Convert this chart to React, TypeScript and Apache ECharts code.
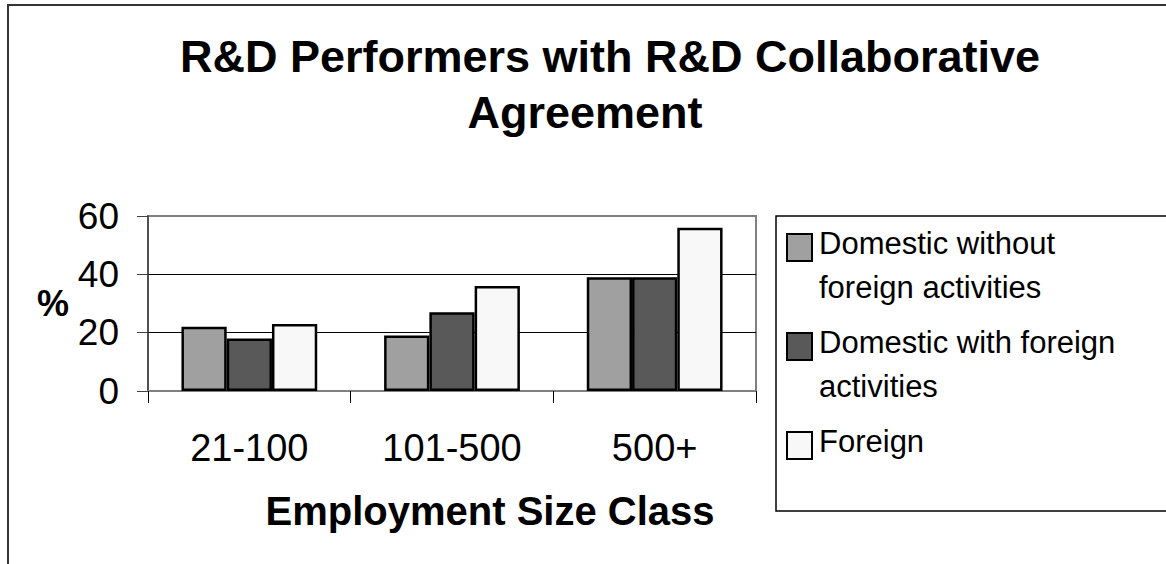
import React, { useEffect, useRef } from "react";
import * as echarts from "echarts";

const categories = ["21-100", "101-500", "500+"];
const seriesNames = [
  "Domestic without foreign activities",
  "Domestic with foreign activities",
  "Foreign",
];
const legendLabels = [
  "Domestic without\nforeign activities",
  "Domestic with foreign\nactivities",
  "Foreign\n",
];
const domesticWithout = [22, 19, 39];
const domesticWith = [18, 27, 39];
const foreign = [23, 36, 56];
const yTicks = [0, 20, 40, 60];

const FONT = "'Liberation Sans', Arial, Helvetica, sans-serif";
const colors = ["#a0a0a0", "#595959", "#f8f8f8"];

export default function App() {
  const ref = useRef<HTMLDivElement>(null);
  useEffect(() => {
    if (!ref.current) return;
    const chart = echarts.init(ref.current, undefined, { renderer: "svg" });
    const values = [domesticWithout, domesticWith, foreign];
    const option: any = {
      animation: false,
      backgroundColor: "#ffffff",
      textStyle: { fontFamily: FONT, color: "#000" },
      title: [
        {
          text: "R&D Performers with R&D Collaborative",
          left: 610,
          top: 28,
          padding: 0,
          textAlign: "center",
          textStyle: { fontFamily: FONT, fontSize: 45, fontWeight: "bold", color: "#000", lineHeight: 56 },
        },
        {
          text: "Agreement",
          left: 585,
          top: 84,
          padding: 0,
          textAlign: "center",
          textStyle: { fontFamily: FONT, fontSize: 45, fontWeight: "bold", color: "#000", lineHeight: 56 },
        },
      ],
      grid: {
        left: 148,
        right: 1166 - 756,
        top: 216,
        bottom: 564 - 391,
        show: true,
        borderColor: "#808080",
        borderWidth: 2,
        backgroundColor: "transparent",
      },
      legend: {
        orient: "vertical",
        left: 786,
        top: 221,
        padding: 0,
        itemGap: 11,
        itemWidth: 27,
        itemHeight: 62,
        icon: "path://M0,0H25V27H0Z M27,62",
        itemStyle: { borderColor: "#000", borderWidth: 2 },
        data: seriesNames,
        formatter: (name: string) => legendLabels[seriesNames.indexOf(name)],
        textStyle: { fontFamily: FONT, fontSize: 31, lineHeight: 44, color: "#000" },
        selectedMode: false,
      },
      xAxis: {
        type: "category",
        data: categories,
        name: "Employment Size Class",
        nameLocation: "middle",
        nameGap: 100,
        nameTextStyle: {
          fontFamily: FONT,
          fontSize: 40,
          fontWeight: "bold",
          color: "#000",
          lineHeight: 40,
          padding: [0, 0, 0, 76],
        },
        axisLine: { show: true, lineStyle: { color: "#808080", width: 2 } },
        axisTick: { show: true, length: 12, lineStyle: { color: "#000", width: 1 } },
        axisLabel: { fontFamily: FONT, fontSize: 38, color: "#000", margin: 38, lineHeight: 38 },
        splitLine: { show: false },
      },
      yAxis: {
        type: "value",
        min: 0,
        max: 60,
        interval: 20,
        name: "%",
        nameLocation: "middle",
        nameRotate: 0,
        nameGap: 95,
        nameTextStyle: {
          fontFamily: FONT,
          fontSize: 36,
          fontWeight: "bold",
          color: "#000",
          align: "center",
          verticalAlign: "middle",
          padding: [18, 0, 0, 0],
        },
        axisLine: { show: true, lineStyle: { color: "#404040", width: 1.5 } },
        axisTick: { show: true, length: 11, lineStyle: { color: "#404040", width: 1 } },
        axisLabel: {
          fontFamily: FONT,
          fontSize: 37,
          color: "#000",
          margin: 29,
          formatter: (v: number) => (yTicks.includes(v) ? String(v) : ""),
        },
        splitLine: {
          show: true,
          lineStyle: { color: ["#000", "#000", "#000", "rgba(0,0,0,0)"], width: 1 },
        },
      },
      series: seriesNames.map((name, i) => ({
        name,
        type: "bar",
        data: values[i],
        barGap: "0%",
        barCategoryGap: "33%",
        itemStyle: { color: colors[i], borderColor: "#000", borderWidth: 2.5 },
      })),
      graphic: [
        {
          type: "rect",
          silent: true,
          z: -10,
          shape: { x: 8, y: 5, width: 1300, height: 700 },
          style: { fill: "transparent", stroke: "#333", lineWidth: 2 },
        },
        {
          type: "rect",
          silent: true,
          z: -5,
          shape: { x: 776, y: 216, width: 500, height: 295 },
          style: { fill: "transparent", stroke: "#000", lineWidth: 1.5 },
        },
      ],
    };
    chart.setOption(option);
    return () => chart.dispose();
  }, []);
  return (
    <div
      ref={ref}
      style={{ position: "absolute", left: 0, top: 0, width: 1166, height: 564, background: "#fff" }}
    />
  );
}
